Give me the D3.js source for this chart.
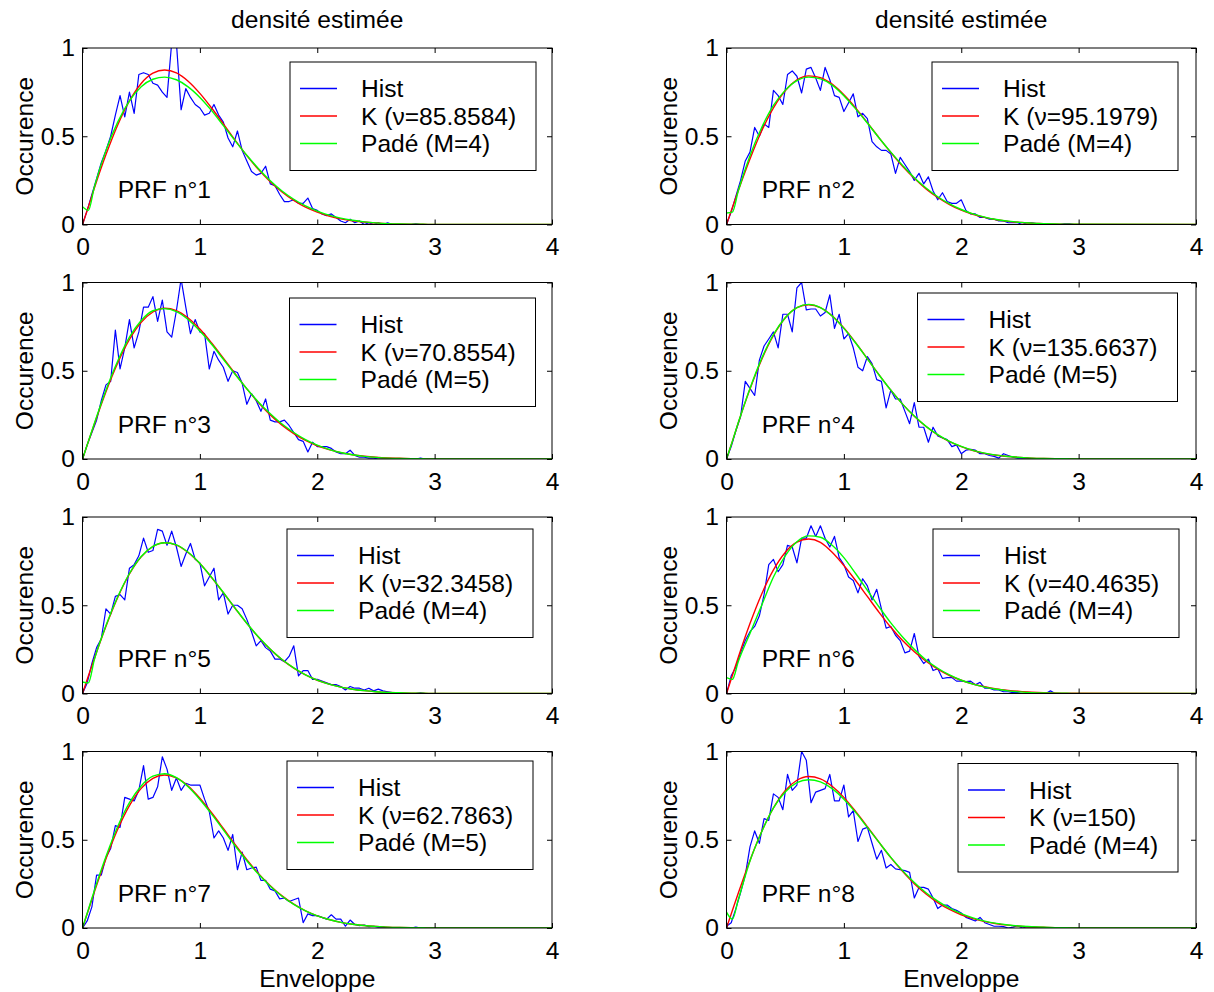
<!DOCTYPE html>
<html><head><meta charset="utf-8">
<script src="https://cdn.jsdelivr.net/npm/d3@7"></script>
<style>
body{margin:0;background:#fff;}
text{font-family:"Liberation Sans",Arial,Helvetica,sans-serif;}
</style>
</head><body>
<svg id="chart" width="1214" height="992"></svg>
<script>
// ---------------- DATA ----------------
const xTicks = [0, 1, 2, 3, 4];
const yTicks = [0, 0.5, 1];

const binX = [0,0.04,0.08,0.12,0.16,0.2,0.24,0.28,0.32,0.36,
  0.4,0.44,0.48,0.52,0.56,0.6,0.64,0.68,0.72,0.76,
  0.8,0.84,0.88,0.92,0.96,1,1.04,1.08,1.12,1.16,
  1.2,1.24,1.28,1.32,1.36,1.4,1.44,1.48,1.52,1.56,
  1.6,1.64,1.68,1.72,1.76,1.8,1.84,1.88,1.92,1.96,
  2,2.04,2.08,2.12,2.16,2.2,2.24,2.28,2.32,2.36,
  2.4,2.44,2.48,2.52,2.56,2.6,2.64,2.68,2.72,2.76,
  2.8,2.84,2.88,2.92,2.96,3,4];

const hist1 = [0,0.08,0.17,0.26,0.35,0.42,0.50,0.62,0.73,0.61,
  0.75,0.63,0.85,0.86,0.85,0.80,0.79,0.75,0.72,1.03,
  1.03,0.65,0.77,0.72,0.68,0.66,0.62,0.63,0.68,0.62,
  0.58,0.49,0.44,0.53,0.42,0.36,0.30,0.28,0.29,0.33,
  0.23,0.22,0.17,0.13,0.13,0.14,0.12,0.12,0.15,0.09,
  0.08,0.06,0.05,0.06,0.04,0.02,0.01,0.03,0.01,0.02,
  0,0.01,0,0.01,0,0.01,0,0,0,0,
  0,0.005,0,0,0,0,0];
const hist2 = [0,0.07,0.16,0.25,0.36,0.41,0.55,0.50,0.57,0.55,
  0.76,0.73,0.68,0.85,0.87,0.84,0.745,0.88,0.89,0.83,
  0.76,0.89,0.82,0.73,0.72,0.64,0.69,0.74,0.61,0.63,
  0.60,0.47,0.44,0.42,0.42,0.40,0.29,0.38,0.34,0.30,
  0.25,0.29,0.23,0.27,0.19,0.14,0.18,0.13,0.12,0.12,
  0.14,0.08,0.06,0.06,0.04,0.04,0.03,0.03,0.02,0.02,
  0.01,0.01,0.01,0,0.01,0.01,0.005,0,0,0,
  0,0,0.005,0.005,0,0,0];
const hist3 = [0,0.08,0.15,0.22,0.33,0.42,0.44,0.73,0.51,0.63,
  0.79,0.63,0.72,0.86,0.86,0.92,0.78,0.90,0.72,0.69,
  0.84,1.02,0.86,0.71,0.79,0.72,0.71,0.51,0.61,0.56,
  0.52,0.44,0.50,0.49,0.43,0.31,0.37,0.33,0.27,0.34,
  0.22,0.21,0.21,0.22,0.19,0.15,0.11,0.10,0.04,0.095,
  0.07,0.07,0.07,0.06,0.04,0.03,0.03,0.05,0.02,0.01,
  0.01,0.005,0.005,0,0,0,0,0,0,0,
  0,0,0.005,0,0,0,0];
const hist4 = [0,0.07,0.16,0.24,0.44,0.40,0.36,0.56,0.64,0.68,
  0.72,0.63,0.82,0.82,0.72,0.97,1.00,0.845,0.85,0.85,
  0.81,0.83,0.93,0.74,0.82,0.68,0.71,0.63,0.52,0.50,
  0.58,0.54,0.45,0.44,0.29,0.39,0.34,0.34,0.27,0.20,
  0.32,0.18,0.18,0.095,0.18,0.13,0.12,0.11,0.07,0.08,
  0.03,0.05,0.055,0.05,0.03,0.03,0.02,0.015,0.005,0.03,
  0.02,0.01,0.005,0.005,0.005,0,0,0,0,0,
  0,0,0,0,0,0,0];
const hist5 = [0,0.06,0.17,0.26,0.31,0.48,0.45,0.55,0.56,0.53,
  0.71,0.73,0.78,0.88,0.80,0.81,0.93,0.92,0.84,0.92,
  0.83,0.72,0.79,0.85,0.76,0.74,0.61,0.66,0.71,0.53,
  0.57,0.45,0.50,0.50,0.48,0.42,0.35,0.27,0.30,0.26,
  0.24,0.195,0.195,0.18,0.21,0.27,0.10,0.13,0.13,0.08,
  0.08,0.07,0.06,0.05,0.05,0.04,0.02,0.04,0.03,0.03,
  0.02,0.03,0.015,0.025,0.015,0.01,0.005,0.005,0,0,
  0,0,0.005,0,0,0,0];
const hist6 = [0,0.10,0.15,0.23,0.30,0.35,0.38,0.44,0.56,0.73,
  0.76,0.69,0.73,0.84,0.83,0.74,0.88,0.88,0.95,0.89,
  0.95,0.88,0.83,0.89,0.77,0.73,0.66,0.64,0.57,0.65,
  0.61,0.53,0.59,0.48,0.37,0.38,0.33,0.30,0.23,0.24,
  0.34,0.21,0.17,0.195,0.13,0.14,0.085,0.09,0.09,0.07,
  0.07,0.067,0.07,0.05,0.063,0.03,0.03,0.02,0.02,0.01,
  0.01,0.005,0.005,0,0,0,0,0,0,0.015,
  0,0,0,0,0,0,0];
const hist7 = [0,0.04,0.12,0.30,0.30,0.40,0.45,0.58,0.57,0.74,
  0.73,0.72,0.78,0.92,0.73,0.74,0.80,0.97,0.90,0.78,
  0.85,0.78,0.82,0.81,0.81,0.81,0.73,0.66,0.51,0.55,
  0.51,0.44,0.53,0.33,0.43,0.33,0.34,0.345,0.27,0.27,
  0.22,0.21,0.165,0.17,0.15,0.16,0.17,0.03,0.08,0.07,
  0.07,0.06,0.05,0.075,0.05,0.05,0.01,0.045,0.02,0.013,
  0.017,0.008,0.01,0.005,0.005,0,0,0,0,0,
  0,0.005,0,0,0,0,0];
const hist8 = [0.01,0.03,0.11,0.20,0.30,0.46,0.55,0.48,0.62,0.61,
  0.76,0.74,0.67,0.87,0.78,0.81,1.00,0.95,0.71,0.77,
  0.78,0.79,0.87,0.72,0.72,0.81,0.63,0.665,0.49,0.56,
  0.57,0.48,0.39,0.44,0.34,0.36,0.335,0.33,0.325,0.315,
  0.17,0.23,0.23,0.22,0.17,0.11,0.13,0.13,0.11,0.10,
  0.085,0.06,0.05,0.04,0.06,0.03,0.02,0.01,0.01,0.008,
  0,0.005,0.013,0,0.007,0.005,0.003,0,0,0,
  0,0,0,0,0,0,0];

const fitX = [0,0.05,0.1,0.2,0.3,0.4,0.5,0.6,0.7,0.8,0.9,1,1.1,1.2,1.3,1.4,1.5,1.6,1.7,1.8,1.9,2,
  2.1,2.2,2.3,2.4,2.5,2.6,2.7,2.8,2.9,3,4];

const kFit1 = [0,0.10,0.204,0.396,0.564,0.70,0.799,0.857,0.875,0.859,0.812,0.743,0.66,0.57,0.478,0.39,0.311,0.242,0.184,0.136,0.098,0.07,0.048,0.032,0.021,0.014,0.009,0.005,0.003,0.002,0.001,0.0006,0];
const padeFit1 = [0.10,0.08,0.21,0.42,0.58,0.70,0.78,0.823,0.835,0.82,0.78,0.72,0.645,0.56,0.475,0.392,0.316,0.248,0.19,0.143,0.105,0.076,0.053,0.036,0.024,0.015,0.009,0.005,0.003,0.002,0.001,0.0005,0];
const kFit2 = [0,0.096,0.191,0.371,0.531,0.661,0.758,0.819,0.842,0.832,0.795,0.735,0.661,0.577,0.491,0.408,0.330,0.262,0.202,0.153,0.113,0.081,0.058,0.040,0.027,0.018,0.012,0.007,0.005,0.003,0.002,0.001,0];
const padeFit2 = [0.065,0.07,0.19,0.39,0.55,0.675,0.76,0.815,0.835,0.825,0.79,0.73,0.655,0.575,0.49,0.41,0.335,0.265,0.207,0.157,0.117,0.085,0.06,0.042,0.028,0.019,0.012,0.008,0.005,0.003,0.002,0.001,0];
const kFit3 = [0,0.099,0.196,0.381,0.544,0.677,0.774,0.833,0.854,0.841,0.799,0.736,0.657,0.571,0.483,0.397,0.319,0.250,0.192,0.144,0.105,0.075,0.053,0.036,0.024,0.016,0.010,0.006,0.004,0.002,0.001,0.0008,0];
const padeFit3 = [0,0.10,0.20,0.39,0.555,0.69,0.785,0.84,0.852,0.835,0.79,0.725,0.65,0.565,0.48,0.398,0.322,0.256,0.198,0.15,0.11,0.079,0.055,0.037,0.024,0.015,0.009,0.005,0.003,0.002,0.001,0.0005,0];
const kFit4 = [0,0.10,0.204,0.396,0.564,0.70,0.799,0.857,0.874,0.858,0.811,0.742,0.659,0.569,0.477,0.39,0.311,0.242,0.184,0.136,0.098,0.07,0.048,0.032,0.021,0.014,0.009,0.005,0.003,0.002,0.001,0.0006,0];
const padeFit4 = [0,0.10,0.205,0.40,0.57,0.705,0.80,0.858,0.876,0.858,0.81,0.74,0.657,0.567,0.476,0.39,0.311,0.243,0.185,0.138,0.10,0.071,0.049,0.033,0.022,0.014,0.009,0.005,0.003,0.002,0.001,0.0005,0];
const kFit5 = [0,0.099,0.196,0.381,0.544,0.677,0.774,0.833,0.854,0.841,0.799,0.736,0.657,0.571,0.483,0.397,0.319,0.250,0.192,0.144,0.105,0.075,0.053,0.036,0.024,0.016,0.010,0.006,0.004,0.002,0.001,0.0008,0];
const padeFit5 = [0.065,0.06,0.19,0.385,0.548,0.68,0.776,0.834,0.854,0.842,0.80,0.737,0.658,0.572,0.484,0.398,0.32,0.251,0.193,0.145,0.106,0.076,0.053,0.036,0.024,0.016,0.01,0.006,0.004,0.002,0.001,0.0008,0];
const kFit6 = [0,0.102,0.204,0.396,0.564,0.70,0.799,0.857,0.875,0.856,0.80,0.725,0.64,0.55,0.46,0.375,0.30,0.237,0.183,0.138,0.102,0.075,0.054,0.038,0.026,0.018,0.012,0.008,0.005,0.003,0.002,0.001,0];
const padeFit6 = [0.09,0.08,0.18,0.34,0.50,0.66,0.78,0.86,0.893,0.885,0.84,0.77,0.68,0.585,0.49,0.40,0.32,0.25,0.19,0.143,0.105,0.075,0.053,0.036,0.024,0.015,0.009,0.005,0.003,0.002,0.001,0.0005,0];
const kFit7 = [0,0.101,0.202,0.392,0.559,0.693,0.791,0.848,0.867,0.850,0.804,0.735,0.653,0.564,0.473,0.387,0.308,0.240,0.182,0.135,0.097,0.069,0.048,0.032,0.021,0.014,0.009,0.005,0.003,0.002,0.001,0.0006,0];
const padeFit7 = [0,0.105,0.21,0.405,0.575,0.71,0.805,0.86,0.874,0.852,0.80,0.728,0.645,0.556,0.466,0.381,0.304,0.237,0.18,0.134,0.097,0.069,0.048,0.032,0.021,0.014,0.009,0.005,0.003,0.002,0.001,0.0005,0];
const kFit8 = [0,0.099,0.197,0.383,0.547,0.680,0.778,0.837,0.858,0.845,0.803,0.740,0.660,0.574,0.485,0.399,0.321,0.251,0.193,0.144,0.105,0.075,0.053,0.036,0.024,0.016,0.010,0.006,0.004,0.002,0.001,0.0008,0];
const padeFit8 = [0.09,0.05,0.16,0.38,0.545,0.68,0.77,0.823,0.84,0.828,0.79,0.73,0.655,0.57,0.485,0.40,0.325,0.258,0.20,0.152,0.112,0.081,0.057,0.039,0.026,0.017,0.011,0.007,0.004,0.002,0.001,0.0005,0];

const columnTitle = "densité estimée";
const yLabelText = "Occurence";
const xLabelText = "Enveloppe";
const histLabel = "Hist";
const prfLabels = ["PRF n°1","PRF n°2","PRF n°3","PRF n°4","PRF n°5","PRF n°6","PRF n°7","PRF n°8"];
const kLabels = ["K (ν=85.8584)","K (ν=95.1979)","K (ν=70.8554)","K (ν=135.6637)","K (ν=32.3458)","K (ν=40.4635)","K (ν=62.7863)","K (ν=150)"];
const padeLabels = ["Padé (M=4)","Padé (M=4)","Padé (M=5)","Padé (M=5)","Padé (M=4)","Padé (M=4)","Padé (M=5)","Padé (M=4)"];

const hists = [hist1,hist2,hist3,hist4,hist5,hist6,hist7,hist8];
const kFits = [kFit1,kFit2,kFit3,kFit4,kFit5,kFit6,kFit7,kFit8];
const padeFits = [padeFit1,padeFit2,padeFit3,padeFit4,padeFit5,padeFit6,padeFit7,padeFit8];

// ---------------- LAYOUT ----------------
const FONT = 24.6;
const colLeft = [82.5, 726.5];
const axW = 469.5;
const rowTop = [48, 282.5, 517, 751.5];
const axH = 176.5;
const legendBox = [
  {left:290, top:62}, {left:932, top:62},
  {left:289.5, top:298}, {left:917.5, top:293},
  {left:287, top:529}, {left:933, top:529},
  {left:287, top:761}, {left:958, top:763.5}
];
const COLORS = {hist:"#0000ff", k:"#ff0000", pade:"#00ff00"};

const svg = d3.select("#chart");
svg.append("rect").attr("width",1214).attr("height",992).attr("fill","#fff");

// column titles & x labels
[0,1].forEach(c => {
  const cx = colLeft[c] + axW/2;
  svg.append("text").attr("x",cx).attr("y",28).attr("text-anchor","middle")
    .attr("font-size",FONT).attr("fill","#000").text(columnTitle);
  svg.append("text").attr("x",cx).attr("y",rowTop[3]+axH+59).attr("text-anchor","middle")
    .attr("font-size",FONT).attr("fill","#000").text(xLabelText);
});

for (let i = 0; i < 8; i++) {
  const c = i % 2, r = Math.floor(i / 2);
  const L = colLeft[c], T = rowTop[r];
  const x = d3.scaleLinear().domain([0,4]).range([L, L+axW]);
  const y = d3.scaleLinear().domain([0,1]).range([T+axH, T]);
  const g = svg.append("g");

  const clipId = "clip"+i;
  svg.append("clipPath").attr("id",clipId).append("rect")
    .attr("x",L).attr("y",T).attr("width",axW).attr("height",axH);

  const plotG = g.append("g").attr("clip-path",`url(#${clipId})`);
  const line = d3.line().x(d=>x(d[0])).y(d=>y(d[1]));
  const histPts = binX.map((v,j)=>[v,hists[i][j]]);
  plotG.append("path").datum(histPts).attr("d", line)
    .attr("fill","none").attr("stroke",COLORS.hist).attr("stroke-width",1.2).attr("stroke-linejoin","round");
  const smooth = d3.line().x(d=>x(d[0])).y(d=>y(d[1])).curve(d3.curveMonotoneX);
  plotG.append("path").datum(fitX.map((v,j)=>[v,kFits[i][j]])).attr("d", smooth)
    .attr("fill","none").attr("stroke",COLORS.k).attr("stroke-width",1.4);
  plotG.append("path").datum(fitX.map((v,j)=>[v,padeFits[i][j]])).attr("d", smooth)
    .attr("fill","none").attr("stroke",COLORS.pade).attr("stroke-width",1.4);

  // axes (ticks inward on all four sides)
  const fmt = d => String(d);
  const axB = g.append("g").attr("transform",`translate(0,${T+axH})`)
    .call(d3.axisBottom(x).tickValues(xTicks).tickSize(-5).tickPadding(13.5).tickFormat(fmt));
  const axT = g.append("g").attr("transform",`translate(0,${T})`)
    .call(d3.axisTop(x).tickValues(xTicks).tickSize(-5).tickFormat(""));
  const axL = g.append("g").attr("transform",`translate(${L},0)`)
    .call(d3.axisLeft(y).tickValues(yTicks).tickSize(-5).tickPadding(7.5).tickFormat(fmt));
  const axR = g.append("g").attr("transform",`translate(${L+axW},0)`)
    .call(d3.axisRight(y).tickValues(yTicks).tickSize(-5).tickFormat(""));
  [axB,axT,axL,axR].forEach(a => {
    a.select(".domain").remove();
    a.attr("font-size",FONT).attr("font-family",null);
    a.selectAll("line").attr("stroke","#000").attr("stroke-width",1);
    a.selectAll("text").attr("fill","#000");
  });
  g.append("rect").attr("x",L).attr("y",T).attr("width",axW).attr("height",axH)
    .attr("fill","none").attr("stroke","#000").attr("stroke-width",1);

  // y label
  g.append("text").attr("transform",`translate(${L-50},${T+axH/2}) rotate(-90)`)
    .attr("text-anchor","middle").attr("font-size",FONT).attr("fill","#000").text(yLabelText);

  // PRF text
  g.append("text").attr("x",x(0.3)).attr("y",y(0.2)).attr("dy","0.36em")
    .attr("font-size",FONT).attr("fill","#000").text(prfLabels[i]);

  // legend
  const lb = legendBox[i];
  const lg = g.append("g");
  const entries = [[histLabel,COLORS.hist],[kLabels[i],COLORS.k],[padeLabels[i],COLORS.pade]];
  const offs = [26.5, 54, 81.5];
  const box = lg.append("rect");
  let maxW = 0;
  entries.forEach((e,k) => {
    const ly = lb.top + offs[k];
    lg.append("line").attr("x1",lb.left+10).attr("x2",lb.left+47).attr("y1",ly).attr("y2",ly)
      .attr("stroke",e[1]).attr("stroke-width",1.4);
    const t = lg.append("text").attr("x",lb.left+71).attr("y",ly).attr("dy","0.36em")
      .attr("font-size",FONT).attr("fill","#000").text(e[0]);
    maxW = Math.max(maxW, t.node().getComputedTextLength());
  });
  const bw = Math.round(71 + maxW + 20);
  box.attr("x",lb.left).attr("y",lb.top).attr("width",bw).attr("height",108.5)
    .attr("fill","#fff").attr("stroke","#000").attr("stroke-width",1);
}
</script>
</body></html>
